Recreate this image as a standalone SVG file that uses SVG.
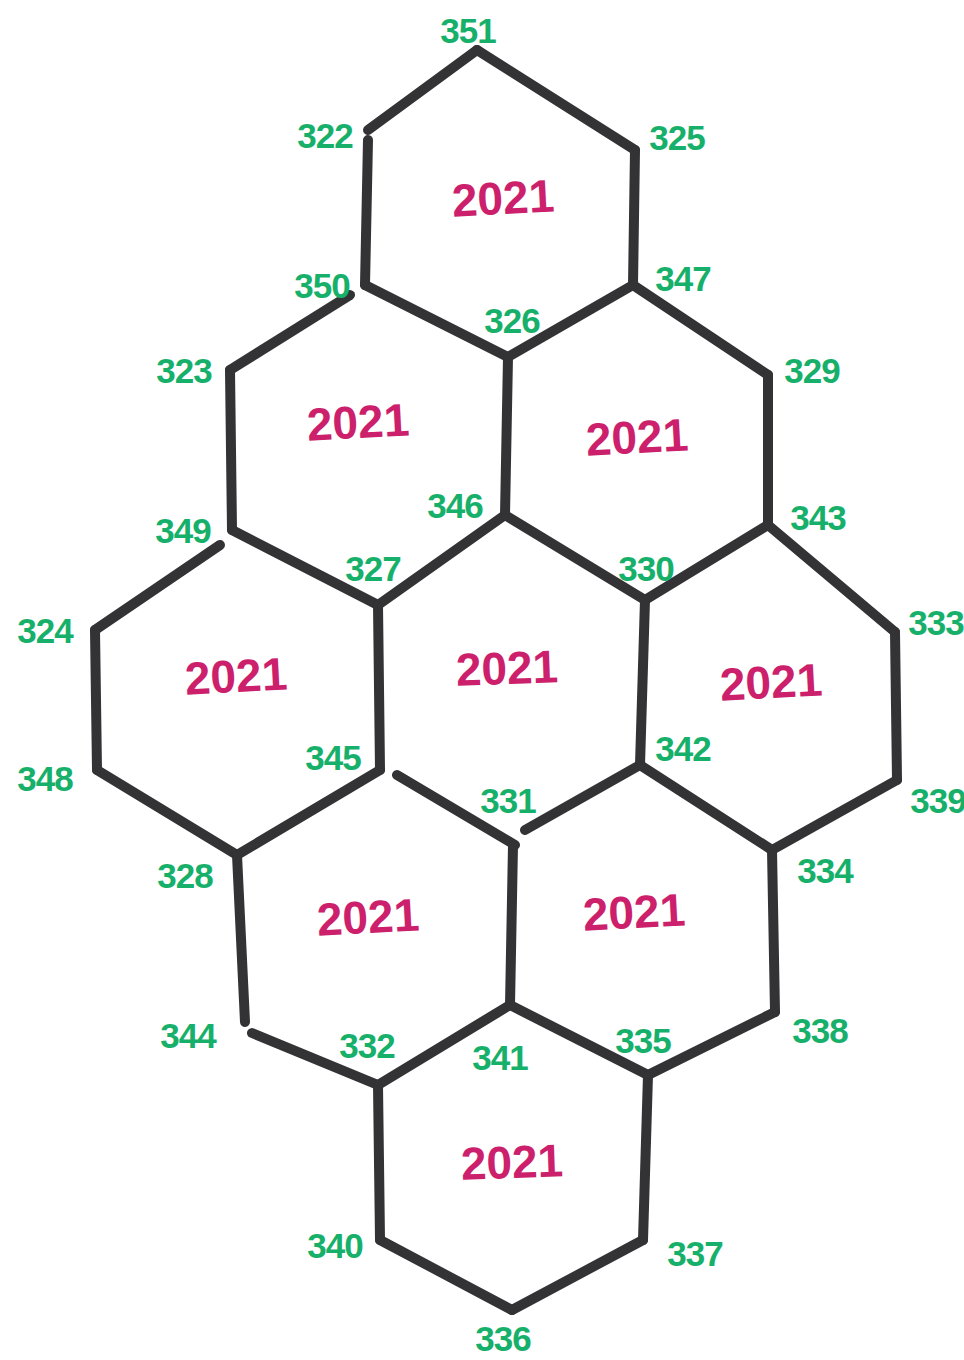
<svg xmlns="http://www.w3.org/2000/svg" width="964" height="1360" viewBox="0 0 964 1360">
<style>
.e{stroke:#333336;stroke-width:10;stroke-linecap:round;fill:none}
.v{fill:#17b06a;font-family:"Liberation Sans",Arial,sans-serif;font-weight:bold;font-size:35px;text-anchor:middle;dominant-baseline:central;letter-spacing:-1px}
.y{fill:#cc1f6c;font-family:"Liberation Sans",Arial,sans-serif;font-weight:bold;font-size:46px;text-anchor:middle;dominant-baseline:central}
</style>
<rect width="964" height="1360" fill="#ffffff"/>
<g id="connectors">
<line class="e" x1="477" y1="50" x2="368" y2="130"/>
<line class="e" x1="477" y1="50" x2="635" y2="150"/>
<line class="e" x1="368" y1="140" x2="365" y2="285"/>
<line class="e" x1="635" y1="150" x2="633" y2="285"/>
<line class="e" x1="365" y1="285" x2="508" y2="357"/>
<line class="e" x1="633" y1="285" x2="508" y2="357"/>
<line class="e" x1="350" y1="295" x2="230" y2="370"/>
<line class="e" x1="230" y1="370" x2="232" y2="530"/>
<line class="e" x1="232" y1="530" x2="378" y2="605"/>
<line class="e" x1="378" y1="605" x2="505" y2="515"/>
<line class="e" x1="508" y1="357" x2="505" y2="515"/>
<line class="e" x1="633" y1="285" x2="768" y2="375"/>
<line class="e" x1="768" y1="375" x2="768" y2="525"/>
<line class="e" x1="768" y1="525" x2="645" y2="600"/>
<line class="e" x1="645" y1="600" x2="505" y2="515"/>
<line class="e" x1="220" y1="545" x2="95" y2="630"/>
<line class="e" x1="95" y1="630" x2="97" y2="770"/>
<line class="e" x1="97" y1="770" x2="237" y2="855"/>
<line class="e" x1="237" y1="855" x2="380" y2="770"/>
<line class="e" x1="380" y1="770" x2="378" y2="605"/>
<line class="e" x1="397" y1="775" x2="515" y2="845"/>
<line class="e" x1="525" y1="830" x2="640" y2="765"/>
<line class="e" x1="640" y1="765" x2="645" y2="600"/>
<line class="e" x1="768" y1="525" x2="895" y2="632"/>
<line class="e" x1="895" y1="632" x2="897" y2="780"/>
<line class="e" x1="897" y1="780" x2="772" y2="850"/>
<line class="e" x1="772" y1="850" x2="640" y2="765"/>
<line class="e" x1="237" y1="855" x2="245" y2="1022"/>
<line class="e" x1="252" y1="1033" x2="378" y2="1085"/>
<line class="e" x1="378" y1="1085" x2="510" y2="1005"/>
<line class="e" x1="510" y1="1005" x2="513" y2="845"/>
<line class="e" x1="772" y1="850" x2="775" y2="1012"/>
<line class="e" x1="775" y1="1012" x2="648" y2="1075"/>
<line class="e" x1="648" y1="1075" x2="510" y2="1005"/>
<line class="e" x1="378" y1="1085" x2="380" y2="1240"/>
<line class="e" x1="380" y1="1240" x2="512" y2="1310"/>
<line class="e" x1="512" y1="1310" x2="643" y2="1240"/>
<line class="e" x1="643" y1="1240" x2="648" y2="1075"/>
</g>
<g id="hex-labels">
<text class="y" x="503" y="198" transform="rotate(-3 503 198)">2021</text>
<text class="y" x="358" y="422" transform="rotate(-3 358 422)">2021</text>
<text class="y" x="637" y="437" transform="rotate(-3 637 437)">2021</text>
<text class="y" x="236" y="676" transform="rotate(-3 236 676)">2021</text>
<text class="y" x="507" y="668" transform="rotate(-2 507 668)">2021</text>
<text class="y" x="771" y="682" transform="rotate(-3 771 682)">2021</text>
<text class="y" x="368" y="917" transform="rotate(-3 368 917)">2021</text>
<text class="y" x="634" y="912" transform="rotate(-3 634 912)">2021</text>
<text class="y" x="512" y="1162" transform="rotate(-2 512 1162)">2021</text>
</g>
<g id="vertex-labels">
<text class="v" x="468" y="30">351</text>
<text class="v" x="325" y="135">322</text>
<text class="v" x="677" y="137">325</text>
<text class="v" x="322" y="285">350</text>
<text class="v" x="683" y="278">347</text>
<text class="v" x="512" y="320">326</text>
<text class="v" x="184" y="370">323</text>
<text class="v" x="812" y="370">329</text>
<text class="v" x="455" y="505">346</text>
<text class="v" x="183" y="530">349</text>
<text class="v" x="818" y="517">343</text>
<text class="v" x="373" y="568">327</text>
<text class="v" x="646" y="568">330</text>
<text class="v" x="45" y="630">324</text>
<text class="v" x="936" y="622">333</text>
<text class="v" x="45" y="778">348</text>
<text class="v" x="333" y="757">345</text>
<text class="v" x="683" y="748">342</text>
<text class="v" x="938" y="800">339</text>
<text class="v" x="508" y="800">331</text>
<text class="v" x="185" y="875">328</text>
<text class="v" x="825" y="870">334</text>
<text class="v" x="188" y="1035">344</text>
<text class="v" x="820" y="1030">338</text>
<text class="v" x="367" y="1045">332</text>
<text class="v" x="500" y="1057">341</text>
<text class="v" x="643" y="1040">335</text>
<text class="v" x="335" y="1245">340</text>
<text class="v" x="695" y="1253">337</text>
<text class="v" x="503" y="1338">336</text>
</g>
</svg>
